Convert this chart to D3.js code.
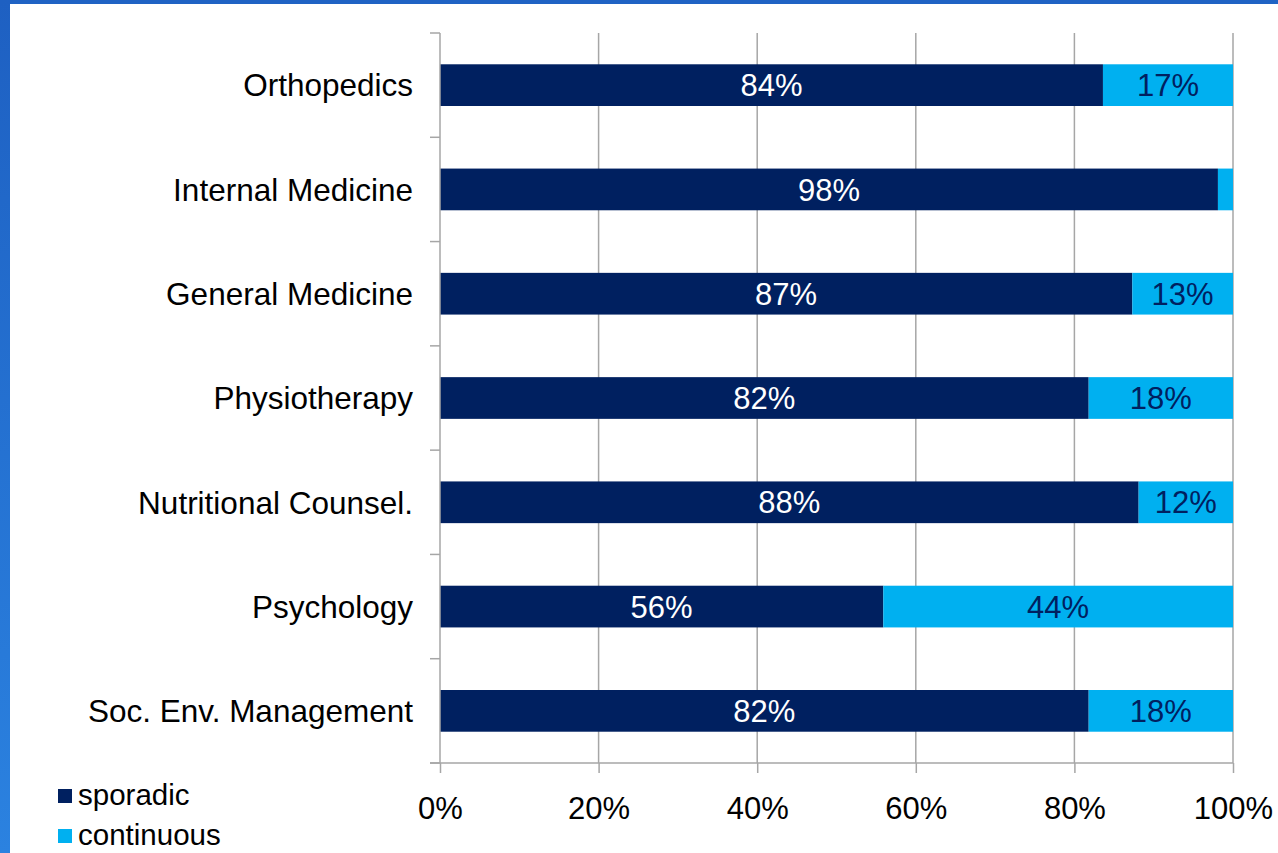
<!DOCTYPE html>
<html>
<head>
<meta charset="utf-8">
<script src="https://cdn.jsdelivr.net/npm/d3@7"></script>
<style>
  html, body { margin: 0; padding: 0; background: #fff; }
  svg { display: block; font-family: "Liberation Sans", Arial, sans-serif; }
</style>
</head>
<body>
<div class="chart"></div>
<script>
var categories = ["Orthopedics", "Internal Medicine", "General Medicine", "Physiotherapy",
                  "Nutritional Counsel.", "Psychology", "Soc. Env. Management"];
var sporadic = [83.6, 98.1, 87.3, 81.8, 88.1, 55.9, 81.8];
var continuous = [16.4, 1.9, 12.7, 18.2, 11.9, 44.1, 18.2];
var sporadicLabels = ["84%", "98%", "87%", "82%", "88%", "56%", "82%"];
var continuousLabels = ["17%", "", "13%", "18%", "12%", "44%", "18%"];
var seriesNames = ["sporadic", "continuous"];
var xTicks = [0, 20, 40, 60, 80, 100];

var W = 1278, H = 853;
var margin = { top: 33, right: 45, bottom: 90, left: 440 };
var width = W - margin.left - margin.right;
var height = H - margin.top - margin.bottom;
var colors = ["#002060", "#00b0f0"];

var svg = d3.select('.chart')
  .append('svg')
    .attr('width', W)
    .attr('height', H);

// blue slide frame
var grad = svg.append('defs').append('linearGradient')
  .attr('id', 'frame').attr('x1', 0).attr('y1', 0).attr('x2', 0).attr('y2', 1);
grad.append('stop').attr('offset', 0).attr('stop-color', '#1e60c2');
grad.append('stop').attr('offset', 1).attr('stop-color', '#2b82e0');
svg.append('rect').attr('width', W).attr('height', 4).attr('fill', '#1f63c4');
svg.append('rect').attr('width', 10).attr('height', H).attr('fill', 'url(#frame)');

var g = svg.append('g')
  .attr('transform', `translate(${margin.left}, ${margin.top})`);

var x = d3.scaleLinear().domain([0, 100]).range([0, width]);
var y = d3.scaleBand().domain(categories).range([0, height]).paddingInner(0.6).paddingOuter(0.3);

// gridlines
g.selectAll('.grid').data(xTicks.slice(1)).enter()
  .append('line')
    .attr('x1', d => x(d)).attr('x2', d => x(d))
    .attr('y1', 0).attr('y2', height)
    .attr('stroke', '#a6a6a6').attr('stroke-width', 1.5);

var stacked = categories.map((c, i) => ({ cat: c, s: sporadic[i], c: continuous[i], i: i }));

g.selectAll('.sp').data(stacked).enter()
  .append('rect')
    .attr('x', 0)
    .attr('y', d => y(d.cat))
    .attr('width', d => x(d.s))
    .attr('height', y.bandwidth())
    .attr('fill', colors[0]);

g.selectAll('.co').data(stacked).enter()
  .append('rect')
    .attr('x', d => x(d.s))
    .attr('y', d => y(d.cat))
    .attr('width', d => x(d.s + d.c) - x(d.s))
    .attr('height', y.bandwidth())
    .attr('fill', colors[1]);

g.selectAll('.spl').data(stacked).enter()
  .append('text')
    .text(d => sporadicLabels[d.i])
    .attr('x', d => x(d.s / 2))
    .attr('y', d => y(d.cat) + y.bandwidth() / 2)
    .attr('dy', '0.36em')
    .attr('text-anchor', 'middle')
    .attr('font-size', 31)
    .attr('fill', '#fff');

g.selectAll('.col').data(stacked).enter()
  .append('text')
    .text(d => continuousLabels[d.i])
    .attr('x', d => x(d.s + d.c / 2))
    .attr('y', d => y(d.cat) + y.bandwidth() / 2)
    .attr('dy', '0.36em')
    .attr('text-anchor', 'middle')
    .attr('font-size', 31)
    .attr('fill', colors[0]);

// y axis
var yAxis = g.append('g');
yAxis.append('line').attr('x1', 0).attr('x2', 0).attr('y1', 0).attr('y2', height)
  .attr('stroke', '#a6a6a6').attr('stroke-width', 1.5);
var step = height / categories.length;
yAxis.selectAll('.yt').data(d3.range(categories.length + 1)).enter()
  .append('line')
    .attr('x1', -10).attr('x2', 0)
    .attr('y1', d => d * step).attr('y2', d => d * step)
    .attr('stroke', '#a6a6a6').attr('stroke-width', 1.5);
yAxis.selectAll('.yl').data(categories).enter()
  .append('text')
    .text(d => d)
    .attr('x', -27)
    .attr('y', d => y(d) + y.bandwidth() / 2)
    .attr('dy', '0.36em')
    .attr('text-anchor', 'end')
    .attr('font-size', 31.5)
    .attr('fill', '#000');

// x axis
var xAxis = d3.axisBottom(x).tickValues(xTicks).tickSize(10).tickPadding(24).tickFormat(d => d + '%');
var xa = g.append('g')
  .attr('transform', `translate(0, ${height})`)
  .call(xAxis);
xa.select('.domain').remove();
xa.append('line').attr('x1', -10).attr('x2', width).attr('stroke', '#a6a6a6').attr('stroke-width', 1.5);
xa.selectAll('.tick line').attr('stroke', '#a6a6a6').attr('stroke-width', 1.5);
xa.selectAll('.tick text').attr('font-size', 31).attr('fill', '#000')
  .attr('font-family', '"Liberation Sans", Arial, sans-serif');

// legend
var legend = svg.append('g').attr('transform', 'translate(58, 789)');
seriesNames.forEach(function(name, i) {
  var row = legend.append('g').attr('transform', `translate(0, ${i * 40})`);
  row.append('rect').attr('width', 14).attr('height', 14).attr('fill', colors[i]);
  row.append('text').text(name).attr('x', 20).attr('y', 16)
    .attr('font-size', 29.5).attr('fill', '#000');
});
</script>
</body>
</html>
